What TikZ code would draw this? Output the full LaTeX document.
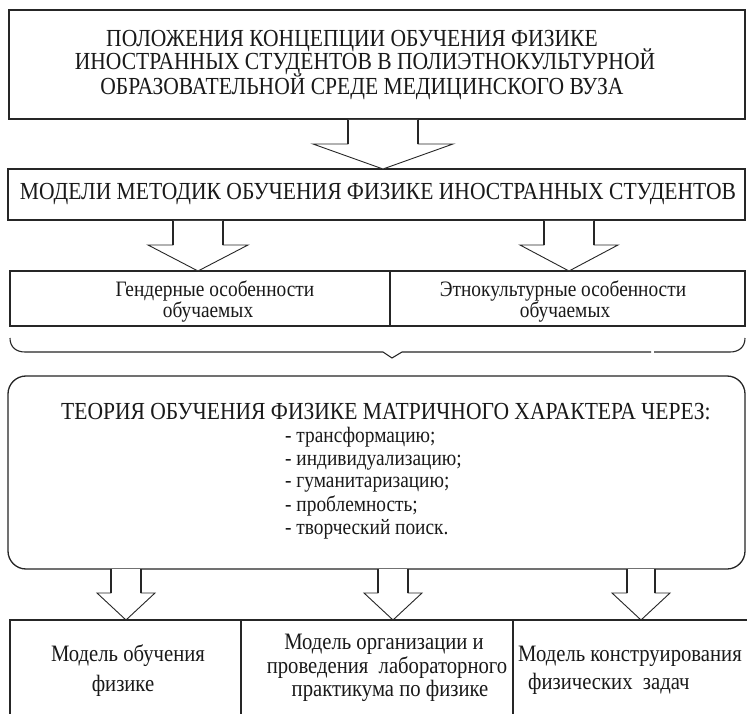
\documentclass[tikz,border=0pt]{standalone}
\usepackage{fontspec}
\setmainfont[FakeStretch=0.88]{Liberation Serif}
\begin{document}
\begin{tikzpicture}[x=1pt,y=-1pt]
\tikzset{
  ln/.style={draw=black!85, line width=1.3pt},
  thinln/.style={draw=black!85, line width=0.9pt},
  boxst/.style={ln, fill=white, inner sep=0pt, outer sep=0pt},
  caps/.style={inner sep=0pt, anchor=mid, text=black!90, font=\fontsize{24.5}{28}\selectfont},
  body/.style={inner sep=0pt, anchor=mid, text=black!90, font=\fontsize{22}{26}\selectfont},
  bodyl/.style={body, anchor=mid west},
  big/.style={body, font=\fontsize{23.5}{27}\selectfont},
  bigl/.style={big, anchor=mid west},
  arr/.style={thinln, fill=white, line join=miter},
}
\newcommand\blkarrow[6]{%
  \filldraw[arr] (#1-#5,#2) -- (#1-#5,#3) -- (#1-#6,#3) -- (#1,#4) -- (#1+#6,#3) -- (#1+#5,#3) -- (#1+#5,#2);
  \draw[ln] (#1-#5,#2) -- (#1-#5,#3) (#1+#5,#2) -- (#1+#5,#3);}
\clip (0,0) rectangle (747,714);
\fill[white] (0,0) rectangle (747,714);

% boxes
\node[boxst, minimum width=736pt, minimum height=109pt] (b1) at (377,64.5) {};
\node[boxst, minimum width=737pt, minimum height=51pt] (b2) at (376.5,194.5) {};
\node[boxst, minimum width=380pt, minimum height=55pt] (g) at (200,298.5) {};
\node[boxst, minimum width=355pt, minimum height=55pt] (e) at (567.5,298.5) {};
\node[boxst, rounded corners=18pt, minimum width=737pt, minimum height=193pt] (th) at (376.5,472.5) {};
\node[boxst, minimum width=231pt, minimum height=110pt] (m1) at (125.5,675) {};
\node[boxst, minimum width=272pt, minimum height=110pt] (m2) at (377,675) {};
\node[boxst, minimum width=260pt, minimum height=110pt] (m3) at (643,675) {};

% block arrows
\blkarrow{383}{120}{144}{169}{35}{70}
\blkarrow{198}{221}{245}{271}{25}{50}
\blkarrow{569}{221}{245}{271}{25}{49}
\blkarrow{126}{569}{593}{620}{15}{29}
\blkarrow{393}{569}{593}{620}{15}{29}
\blkarrow{641}{569}{593}{620}{14}{29}

% brace
\draw[ln, line width=1.1pt] (10,338) .. controls (10,347) and (16,352) .. (25,352) -- (383,352) -- (392,358) -- (402,352) -- (651,352);
\draw[ln, line width=1.1pt] (654,352) -- (730,352) .. controls (739,352) and (745,347) .. (745,338);

% texts
\node[caps] (t1) at (352,44) {ПОЛОЖЕНИЯ КОНЦЕПЦИИ ОБУЧЕНИЯ ФИЗИКЕ};
\node[caps] (t2) at (365,67) {ИНОСТРАННЫХ СТУДЕНТОВ В ПОЛИЭТНОКУЛЬТУРНОЙ};
\node[caps] (t3) at (362,92) {ОБРАЗОВАТЕЛЬНОЙ СРЕДЕ МЕДИЦИНСКОГО ВУЗА};
\node[caps] (t4) at (378,197) {МОДЕЛИ МЕТОДИК ОБУЧЕНИЯ ФИЗИКЕ ИНОСТРАННЫХ СТУДЕНТОВ};
\node[body] (g1) at (215,294) {Гендерные особенности};
\node[body] (g2) at (208,315) {обучаемых};
\node[body] (e1) at (563,294) {Этнокультурные особенности};
\node[body] (e2) at (565,315) {обучаемых};
\node[caps] (h0) at (386,417) {ТЕОРИЯ ОБУЧЕНИЯ ФИЗИКЕ МАТРИЧНОГО ХАРАКТЕРА ЧЕРЕЗ:};
\node[bodyl] (h1) at (285,440) {- трансформацию;};
\node[bodyl] (h2) at (285,463) {- индивидуализацию;};
\node[bodyl] (h3) at (285,485) {- гуманитаризацию;};
\node[bodyl] (h4) at (285,509) {- проблемность;};
\node[bodyl] (h5) at (285,532) {- творческий поиск.};
\node[big] (p1) at (128,659) {Модель обучения};
\node[big] (p2) at (123,689) {физике};
\node[big] (q1) at (384,647) {Модель организации и};
\node[big] (q2) at (387,671) {проведения\ \ лабораторного};
\node[big] (q3) at (390,694) {практикума по физике};
\node[bigl] (r1) at (518,659) {Модель конструирования};
\node[bigl] (r2) at (528,687) {физических\ \ задач};
\end{tikzpicture}
\end{document}
